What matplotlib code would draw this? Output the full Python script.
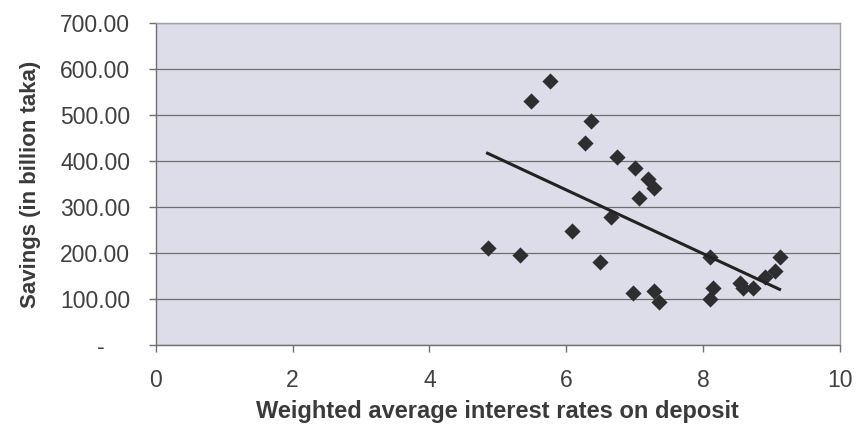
import matplotlib
matplotlib.use("Agg")
import matplotlib.pyplot as plt
from matplotlib.ticker import FuncFormatter

# interest rate (%) vs savings (billion taka)
rates = [4.85, 5.33, 5.49, 5.77, 6.28, 6.37, 6.75, 7.01, 7.20, 7.29,
         7.07, 6.66, 6.09, 6.50, 6.98, 7.29, 7.36, 8.10, 8.15, 8.10,
         8.54, 8.59, 8.73, 8.90, 9.06, 9.12]
savings = [210, 195, 530, 575, 440, 488, 408, 384, 362, 341,
           319, 278, 247, 180, 112, 117, 93, 191, 124, 100,
           134, 124, 124, 148, 160, 191]

# linear trendline end points
trend_x = [4.85, 9.12]
trend_y = [417, 121]

x_ticks = [0, 2, 4, 6, 8, 10]
y_ticks = [0, 100, 200, 300, 400, 500, 600, 700]

plt.rcParams["font.family"] = ["Liberation Sans", "DejaVu Sans"]

fig = plt.figure(figsize=(8.56, 4.28), dpi=100)
ax = fig.add_axes([0.182, 0.194, 0.799, 0.752])
ax.set_facecolor("#dcdde8")

ax.scatter(rates, savings, marker="D", s=68, color="#2e2e30", zorder=3,
           linewidths=0)
ax.plot(trend_x, trend_y, color="#222222", linewidth=2.2, zorder=4)

ax.set_xlim(0, 10)
ax.set_ylim(0, 700)
ax.set_xticks(x_ticks)
ax.set_yticks(y_ticks)
ax.yaxis.set_major_formatter(
    FuncFormatter(lambda v, p: "-    " if v == 0 else f"{v:.2f}"))
ax.grid(True, axis="y", color="#6e6e70", linewidth=0.9)
ax.set_axisbelow(True)

for side in ["top", "right"]:
    ax.spines[side].set_color("#a0a0a8")
    ax.spines[side].set_linewidth(1.0)
for side in ["left", "bottom"]:
    ax.spines[side].set_color("#707070")
    ax.spines[side].set_linewidth(1.0)

ax.tick_params(axis="both", colors="#707070", labelcolor="#404040",
               labelsize=16.5, length=5, width=1)
ax.tick_params(axis="x", pad=12)
ax.tick_params(axis="y", pad=13.5)

ax.set_xlabel("Weighted average interest rates on deposit", fontsize=17,
              fontweight="bold", color="#3a3a3a", labelpad=6)
ax.set_ylabel("Savings (in billion taka)", fontsize=16, fontweight="bold",
              color="#3a3a3a", labelpad=14)

fig.savefig("out.png", dpi=100)
